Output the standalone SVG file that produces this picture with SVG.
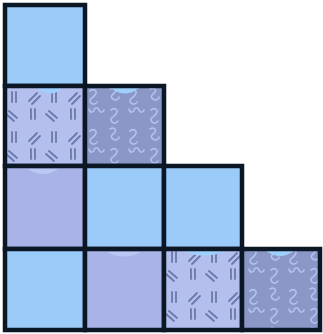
<svg xmlns="http://www.w3.org/2000/svg" width="323" height="334" viewBox="0 0 323 334">
  <defs>
    <pattern id="dashes" width="40" height="40" patternUnits="userSpaceOnUse" x="5" y="86">
      <g stroke="#6a79ab" stroke-width="1.8" stroke-linecap="round">
        <path d="M7,6 v10 M11,6 v10"/>
        <path d="M24,15 l8,-8 M27,18 l8,-8"/>
        <path d="M4,25 l8,7 M1,28 l8,7"/>
        <path d="M26,23 v10 M30,23 v10"/>
      </g>
    </pattern>
    <pattern id="squiggles" width="40" height="40" patternUnits="userSpaceOnUse" x="85" y="86">
      <g fill="none" stroke="#b2c2ee" stroke-width="1.6" stroke-linecap="round" stroke-linejoin="round">
        <path d="M5,5 c4,-3 8,0 5,4 c-3,4 -7,4 -4,8 c2,2 5,1 6,-1"/>
        <path d="M25,3 c3,-2 7,0 5,3 c-2,3 -6,4 -2,7 c3,2 6,0 6,-2"/>
        <path d="M4,23 c1,4 4,4 5,1 c1,-3 4,-3 5,0 c1,3 4,3 5,0"/>
        <path d="M26,24 c4,-3 8,0 5,4 c-3,4 -7,4 -4,8 c2,2 5,1 6,-1"/>
      </g>
    </pattern>
    <style>
      .cell { stroke: #0c1726; stroke-width: 4.5; }
      .blue { fill: #9acbf9; }
      .lav { fill: #a9b3e8; }
      .pale { fill: #b4bfee; }
      .slate { fill: #8a97c7; }
      .men { fill: #9fd0fb; }
      .faint { fill: #b9c9f3; }
    </style>
  </defs>

  <g id="cell-0-0"><rect class="cell blue" x="5" y="5" width="80" height="81"/></g>

  <g id="cell-0-1">
    <rect class="pale" x="5" y="86" width="80" height="80"/>
    <rect fill="url(#dashes)" x="5" y="86" width="80" height="80"/>
    <path class="men" d="M37,88 Q50,99 63,88 Z"/>
    <rect class="cell" fill="none" x="5" y="86" width="80" height="80"/>
  </g>
  <g id="cell-1-1">
    <rect class="slate" x="85" y="86" width="79" height="80"/>
    <rect fill="url(#squiggles)" x="85" y="86" width="79" height="80"/>
    <path class="men" d="M111,88 Q125,99 139,88 Z"/>
    <rect class="cell" fill="none" x="85" y="86" width="79" height="80"/>
  </g>

  <g id="cell-0-2">
    <rect class="lav" x="5" y="166" width="80" height="83"/>
    <path class="faint" d="M28,169 Q43,179 58,169 Z"/>
    <rect class="cell" fill="none" x="5" y="166" width="80" height="83"/>
  </g>
  <g id="cell-1-2"><rect class="cell blue" x="85" y="166" width="79" height="83"/></g>
  <g id="cell-2-2"><rect class="cell blue" x="164" y="166" width="78" height="83"/></g>

  <g id="cell-0-3"><rect class="cell blue" x="5" y="249" width="80" height="81"/></g>
  <g id="cell-1-3">
    <rect class="lav" x="85" y="249" width="79" height="81"/>
    <path class="faint" d="M107,252 Q124,261 141,252 Z"/>
    <rect class="cell" fill="none" x="85" y="249" width="79" height="81"/>
  </g>
  <g id="cell-2-3">
    <rect class="pale" x="164" y="249" width="78" height="81"/>
    <rect fill="url(#dashes)" x="164" y="249" width="78" height="81"/>
    <path class="men" d="M182,251 Q204,260 226,251 Z"/>
    <rect class="cell" fill="none" x="164" y="249" width="78" height="81"/>
  </g>
  <g id="cell-3-3">
    <rect class="slate" x="242" y="249" width="78" height="81"/>
    <rect fill="url(#squiggles)" x="242" y="249" width="78" height="81"/>
    <path class="men" d="M266,251 Q280,261 294,251 Z"/>
    <rect class="cell" fill="none" x="242" y="249" width="78" height="81"/>
  </g>
</svg>
